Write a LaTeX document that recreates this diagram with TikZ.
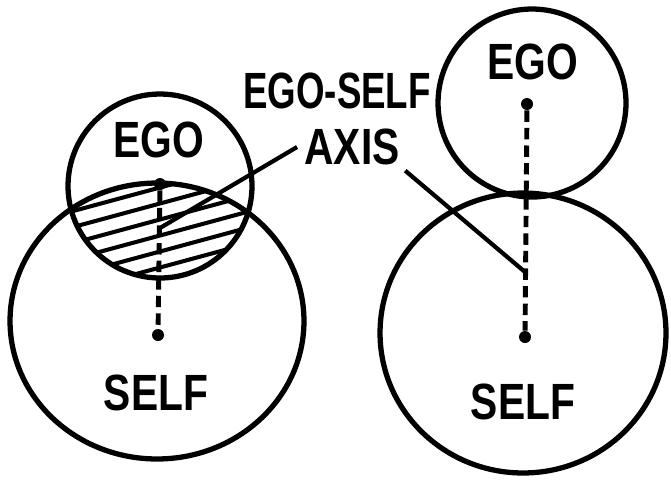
\documentclass[tikz,border=0pt]{standalone}
\usepackage{fontspec}
\setmainfont{Liberation Sans}
\newfontfamily\lblfont{Liberation Sans}[FakeStretch=0.8]
\newfontfamily\lblnarrow{Liberation Sans}[FakeStretch=0.72]
\usetikzlibrary{
    shapes.geometric
}
\tikzset{
    ring/.style={
        circle, draw, line width=3pt, inner sep=0pt, minimum size=#1
    },
    oval/.style 2 args={
        ellipse, draw, line width=3pt, inner sep=0pt,
        minimum width=#1, minimum height=#2
    },
    lbl/.style={
        font=\lblfont\fontsize{29}{32}\selectfont\bfseries, inner sep=0pt
    },
    pivot/.style={
        circle, fill=black, inner sep=0pt, minimum size=0.24cm
    },
    egoaxis/.style={line width=2.8pt, dash pattern=on 6.5pt off 3.5pt},
    hatch/.style={line width=2.3pt},
    pointer/.style={line width=2.4pt},
}

\begin{document}
\begin{tikzpicture}[x=0.02cm, y=-0.02cm]

    \useasboundingbox (0,0) rectangle (671,481);

    % ── left: ego inside the self ──────────────────────────
    \node [oval={5.88cm}{5.52cm}] (selfL) at (157,321) {};
    \node [ring=3.68cm]           (egoL)  at (160,186) {};

    \begin{scope}
        \clip (egoL.center) circle[radius=1.84cm];
        \clip (selfL.center) ellipse[x radius=2.94cm, y radius=2.76cm];
        \foreach \k in {1,...,6}
            \draw [hatch] (40,{204+16*\k}) -- (280,{204+16*\k-65});
    \end{scope}

    \node [pivot] (egoLdot)  at (160,184) {};
    \node [pivot] (selfLdot) at (158,335) {};
    \draw [egoaxis] (egoLdot) -- (selfLdot);

    \node [lbl] (egoLtxt)  at (159,140) {EGO};
    \node [lbl] (selfLtxt) at (156,393) {SELF};

    % ── right: ego separated from the self ─────────────────
    \node [oval={5.72cm}{5.6cm}] (selfR) at (523,333) {};
    \node [ring=3.76cm]          (egoR)  at (532,103) {};

    \node [pivot] (egoRdot)  at (527,104) {};
    \node [pivot] (selfRdot) at (525,337) {};
    \draw [egoaxis] (egoRdot) -- (selfRdot);

    \node [lbl] (egoRtxt)  at (533,62)  {EGO};
    \node [lbl] (selfRtxt) at (523,402) {SELF};

    % ── middle label and its two pointers ──────────────────
    \node [lbl, font=\lblnarrow\fontsize{29}{32}\selectfont\bfseries]
        (egoself) at (337,91) {EGO-SELF};
    \node [lbl] (axis) at (352,147) {AXIS};

    \coordinate (axL) at (160,228);
    \coordinate (axR) at (525,272);
    \draw [pointer] ([xshift=-4pt]axis.west) -- (axL);
    \draw [pointer] ([shift={(3pt,-3pt)}]axis.south east) -- (axR);

\end{tikzpicture}
\end{document}
